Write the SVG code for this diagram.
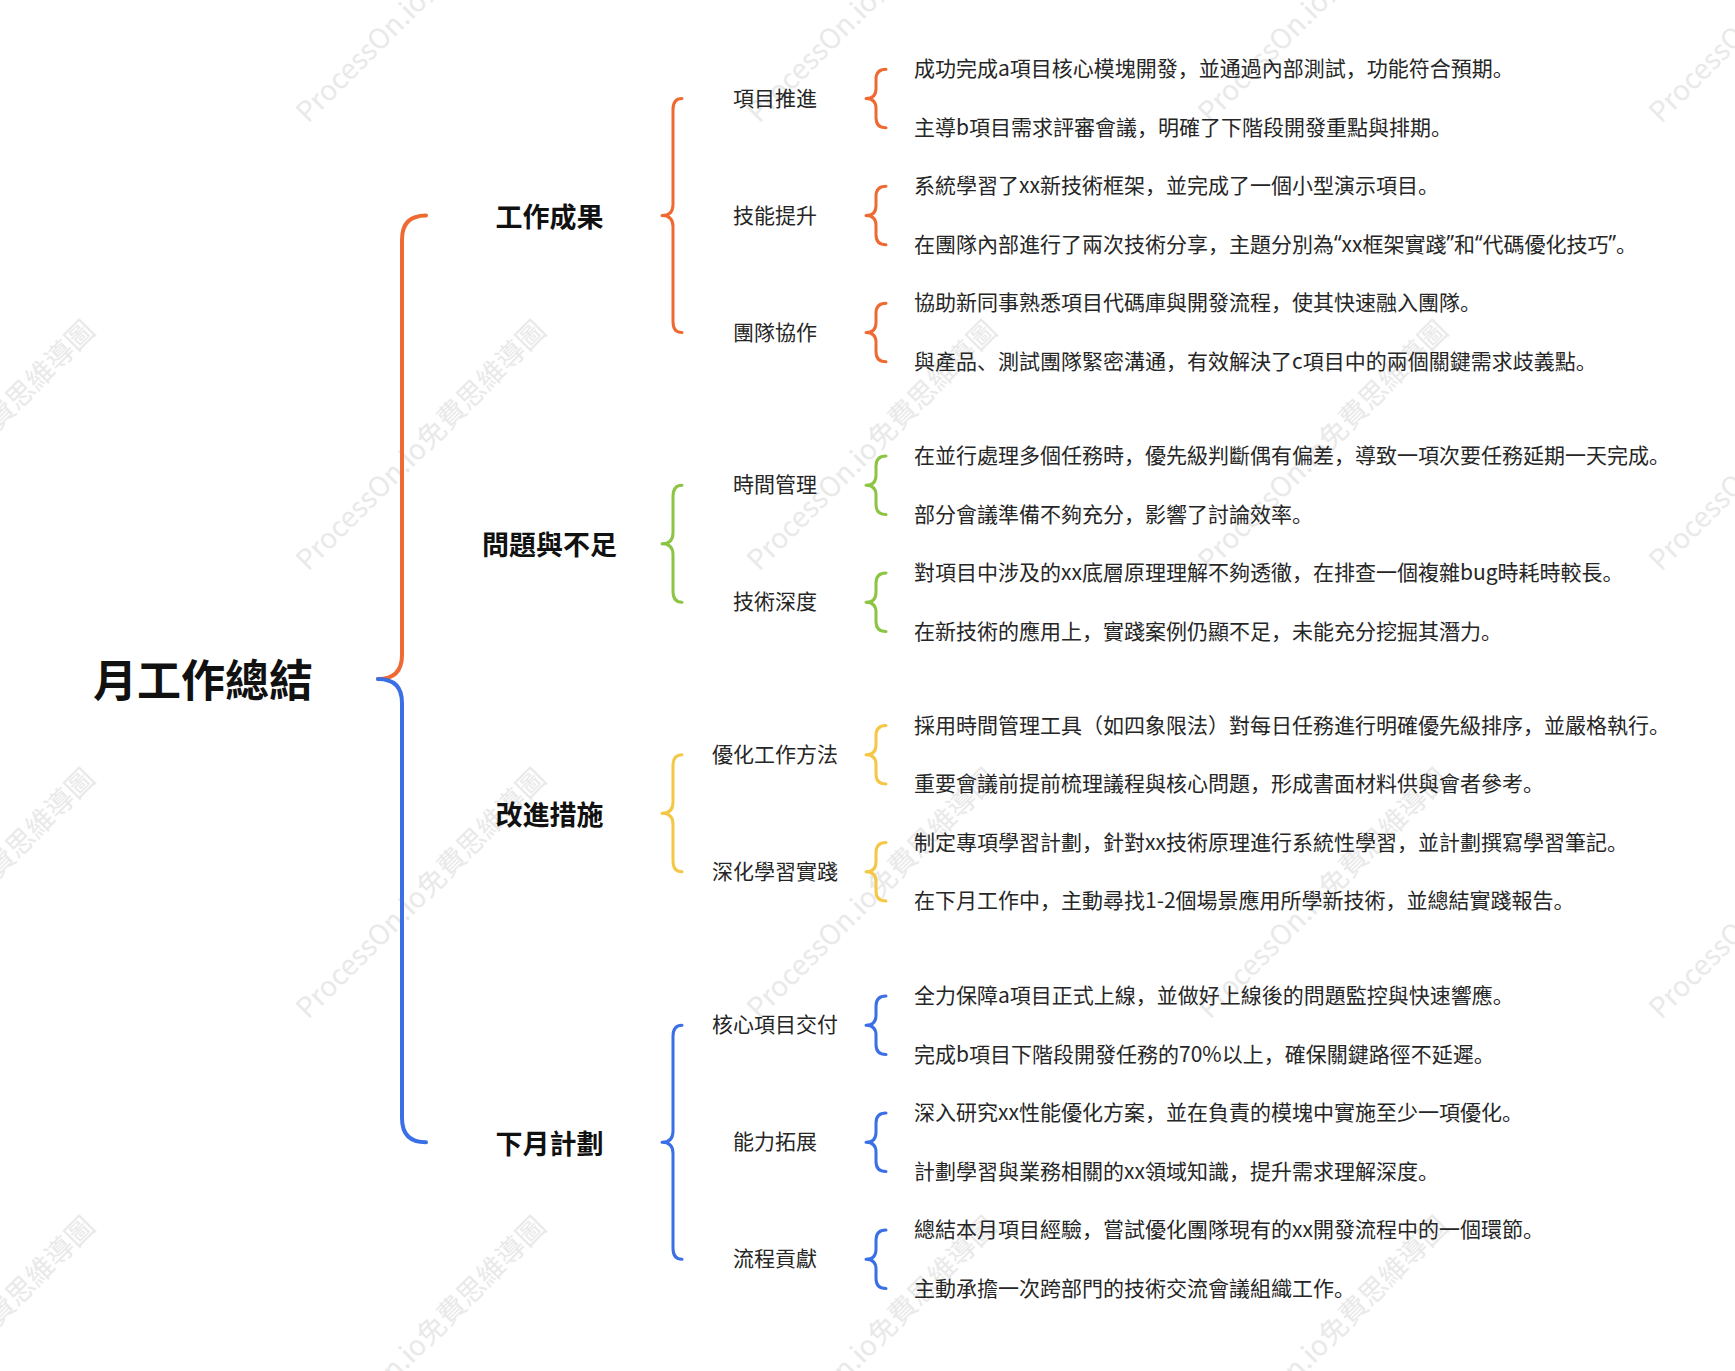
<svg xmlns="http://www.w3.org/2000/svg" width="1735" height="1371" viewBox="0 0 1735 1371">
<style>
  text { font-family: "Noto Sans CJK SC", "Noto Sans CJK TC", sans-serif; dominant-baseline: central; }
  .wm { font-size: 28px; fill: #e9e9e9; dominant-baseline: alphabetic; }
  .root { font-size: 44px; font-weight: 700; fill: #111111; text-anchor: middle; }
  .l1 { font-size: 27px; font-weight: 700; fill: #111111; text-anchor: middle; }
  .l2 { font-size: 21px; fill: #262626; text-anchor: middle; }
  .l3 { font-size: 21px; fill: #262626; }
  .q { font-family: "Noto Sans", sans-serif; }
  .br { fill: none; stroke-linecap: round; stroke-linejoin: round; }
  .main { stroke-width: 4; }
  .sub { stroke-width: 3; }
  .or { stroke: #EF6A33; }
  .gr { stroke: #8CC443; }
  .ye { stroke: #F5C746; }
  .bl { stroke: #3B6FE6; }
</style>
<rect x="0" y="0" width="1735" height="1371" fill="#ffffff"/>

<g id="watermarks">
  <text class="wm" transform="translate(308,124) rotate(-45)">ProcessOn.io免費思維導圖</text>
  <text class="wm" transform="translate(759,124) rotate(-45)">ProcessOn.io免費思維導圖</text>
  <text class="wm" transform="translate(1210,124) rotate(-45)">ProcessOn.io免費思維導圖</text>
  <text class="wm" transform="translate(1661,124) rotate(-45)">ProcessOn.io免費思維導圖</text>
  <text class="wm" transform="translate(-143,572) rotate(-45)">ProcessOn.io免費思維導圖</text>
  <text class="wm" transform="translate(308,572) rotate(-45)">ProcessOn.io免費思維導圖</text>
  <text class="wm" transform="translate(759,572) rotate(-45)">ProcessOn.io免費思維導圖</text>
  <text class="wm" transform="translate(1210,572) rotate(-45)">ProcessOn.io免費思維導圖</text>
  <text class="wm" transform="translate(1661,572) rotate(-45)">ProcessOn.io免費思維導圖</text>
  <text class="wm" transform="translate(-143,1020) rotate(-45)">ProcessOn.io免費思維導圖</text>
  <text class="wm" transform="translate(308,1020) rotate(-45)">ProcessOn.io免費思維導圖</text>
  <text class="wm" transform="translate(759,1020) rotate(-45)">ProcessOn.io免費思維導圖</text>
  <text class="wm" transform="translate(1210,1020) rotate(-45)">ProcessOn.io免費思維導圖</text>
  <text class="wm" transform="translate(1661,1020) rotate(-45)">ProcessOn.io免費思維導圖</text>
  <text class="wm" transform="translate(-143,1468) rotate(-45)">ProcessOn.io免費思維導圖</text>
  <text class="wm" transform="translate(308,1468) rotate(-45)">ProcessOn.io免費思維導圖</text>
  <text class="wm" transform="translate(759,1468) rotate(-45)">ProcessOn.io免費思維導圖</text>
  <text class="wm" transform="translate(1210,1468) rotate(-45)">ProcessOn.io免費思維導圖</text>
</g>

<g id="connectors">
  <path class="br main or" d="M426,215.5 Q402,215.5 402,239.5 L402,654.9 Q402,678.9 378,678.9"/>
  <path class="br main bl" d="M378,678.9 Q402,678.9 402,702.9 L402,1118.2 Q402,1142.2 426,1142.2"/>

  <path class="br sub or" d="M682,98.5 Q673,98.5 673,109.5 L673,204.5 Q673,215.5 662,215.5 Q673,215.5 673,226.5 L673,321.5 Q673,332.5 682,332.5"/>
  <path class="br sub gr" d="M682,485.2 Q673,485.2 673,496.2 L673,532.7 Q673,543.7 662,543.7 Q673,543.7 673,554.7 L673,591.2 Q673,602.2 682,602.2"/>
  <path class="br sub ye" d="M682,754.7 Q673,754.7 673,765.7 L673,802.2 Q673,813.2 662,813.2 Q673,813.2 673,824.2 L673,860.7 Q673,871.7 682,871.7"/>
  <path class="br sub bl" d="M682,1025.2 Q673,1025.2 673,1036.2 L673,1131.2 Q673,1142.2 662,1142.2 Q673,1142.2 673,1153.2 L673,1248.2 Q673,1259.2 682,1259.2"/>

  <path class="br sub or" d="M886,69.3 Q876,69.3 876,79.3 L876,88.55 Q876,98.55 866,98.55 Q876,98.55 876,108.55 L876,117.8 Q876,127.8 886,127.8"/>
  <path class="br sub or" d="M886,186.3 Q876,186.3 876,196.3 L876,205.55 Q876,215.55 866,215.55 Q876,215.55 876,225.55 L876,234.8 Q876,244.8 886,244.8"/>
  <path class="br sub or" d="M886,303.3 Q876,303.3 876,313.3 L876,322.55 Q876,332.55 866,332.55 Q876,332.55 876,342.55 L876,351.8 Q876,361.8 886,361.8"/>
  <path class="br sub gr" d="M886,456 Q876,456 876,466 L876,475.25 Q876,485.25 866,485.25 Q876,485.25 876,495.25 L876,504.5 Q876,514.5 886,514.5"/>
  <path class="br sub gr" d="M886,573 Q876,573 876,583 L876,592.25 Q876,602.25 866,602.25 Q876,602.25 876,612.25 L876,621.5 Q876,631.5 886,631.5"/>
  <path class="br sub ye" d="M886,725.5 Q876,725.5 876,735.5 L876,744.75 Q876,754.75 866,754.75 Q876,754.75 876,764.75 L876,774 Q876,784 886,784"/>
  <path class="br sub ye" d="M886,842.5 Q876,842.5 876,852.5 L876,861.75 Q876,871.75 866,871.75 Q876,871.75 876,881.75 L876,891 Q876,901 886,901"/>
  <path class="br sub bl" d="M886,996 Q876,996 876,1006 L876,1015.25 Q876,1025.25 866,1025.25 Q876,1025.25 876,1035.25 L876,1044.5 Q876,1054.5 886,1054.5"/>
  <path class="br sub bl" d="M886,1113 Q876,1113 876,1123 L876,1132.25 Q876,1142.25 866,1142.25 Q876,1142.25 876,1152.25 L876,1161.5 Q876,1171.5 886,1171.5"/>
  <path class="br sub bl" d="M886,1230 Q876,1230 876,1240 L876,1249.25 Q876,1259.25 866,1259.25 Q876,1259.25 876,1269.25 L876,1278.5 Q876,1288.5 886,1288.5"/>
</g>

<g id="node-root"><text class="root" x="203" y="678">月工作總結</text></g>

<g id="node-work-results"><text class="l1" x="549.5" y="215.5">工作成果</text></g>
<g id="node-problems"><text class="l1" x="549.5" y="543.7">問題與不足</text></g>
<g id="node-improvements"><text class="l1" x="549.5" y="813.2">改進措施</text></g>
<g id="node-next-plan"><text class="l1" x="549.5" y="1142.2">下月計劃</text></g>

<g id="node-project-progress"><text class="l2" x="775" y="96.5">項目推進</text></g>
<g id="node-skill-upgrade"><text class="l2" x="775" y="213.5">技能提升</text></g>
<g id="node-team-collab"><text class="l2" x="775" y="330.5">團隊協作</text></g>
<g id="node-time-mgmt"><text class="l2" x="775" y="483.2">時間管理</text></g>
<g id="node-tech-depth"><text class="l2" x="775" y="600.2">技術深度</text></g>
<g id="node-optimize-method"><text class="l2" x="775" y="752.7">優化工作方法</text></g>
<g id="node-deepen-learning"><text class="l2" x="775" y="869.7">深化學習實踐</text></g>
<g id="node-core-delivery"><text class="l2" x="775" y="1023.2">核心項目交付</text></g>
<g id="node-ability-expand"><text class="l2" x="775" y="1140.2">能力拓展</text></g>
<g id="node-process-contrib"><text class="l2" x="775" y="1257.2">流程貢獻</text></g>

<g id="node-item-01"><text class="l3" x="914" y="67.3">成功完成a項目核心模塊開發，並通過內部測試，功能符合預期。</text></g>
<g id="node-item-02"><text class="l3" x="914" y="125.8">主導b項目需求評審會議，明確了下階段開發重點與排期。</text></g>
<g id="node-item-03"><text class="l3" x="914" y="184.3">系統學習了xx新技術框架，並完成了一個小型演示項目。</text></g>
<g id="node-item-04"><text class="l3" x="914" y="242.8">在團隊內部進行了兩次技術分享，主題分別為<tspan class="q">“</tspan>xx框架實踐<tspan class="q">”</tspan>和<tspan class="q">“</tspan>代碼優化技巧<tspan class="q">”</tspan>。</text></g>
<g id="node-item-05"><text class="l3" x="914" y="301.3">協助新同事熟悉項目代碼庫與開發流程，使其快速融入團隊。</text></g>
<g id="node-item-06"><text class="l3" x="914" y="359.8">與產品、測試團隊緊密溝通，有效解決了c項目中的兩個關鍵需求歧義點。</text></g>
<g id="node-item-07"><text class="l3" x="914" y="454">在並行處理多個任務時，優先級判斷偶有偏差，導致一項次要任務延期一天完成。</text></g>
<g id="node-item-08"><text class="l3" x="914" y="512.5">部分會議準備不夠充分，影響了討論效率。</text></g>
<g id="node-item-09"><text class="l3" x="914" y="571">對項目中涉及的xx底層原理理解不夠透徹，在排查一個複雜bug時耗時較長。</text></g>
<g id="node-item-10"><text class="l3" x="914" y="629.5">在新技術的應用上，實踐案例仍顯不足，未能充分挖掘其潛力。</text></g>
<g id="node-item-11"><text class="l3" x="914" y="723.5">採用時間管理工具（如四象限法）對每日任務進行明確優先級排序，並嚴格執行。</text></g>
<g id="node-item-12"><text class="l3" x="914" y="782">重要會議前提前梳理議程與核心問題，形成書面材料供與會者參考。</text></g>
<g id="node-item-13"><text class="l3" x="914" y="840.5">制定專項學習計劃，針對xx技術原理進行系統性學習，並計劃撰寫學習筆記。</text></g>
<g id="node-item-14"><text class="l3" x="914" y="899">在下月工作中，主動尋找1-2個場景應用所學新技術，並總結實踐報告。</text></g>
<g id="node-item-15"><text class="l3" x="914" y="994">全力保障a項目正式上線，並做好上線後的問題監控與快速響應。</text></g>
<g id="node-item-16"><text class="l3" x="914" y="1052.5">完成b項目下階段開發任務的70%以上，確保關鍵路徑不延遲。</text></g>
<g id="node-item-17"><text class="l3" x="914" y="1111">深入研究xx性能優化方案，並在負責的模塊中實施至少一項優化。</text></g>
<g id="node-item-18"><text class="l3" x="914" y="1169.5">計劃學習與業務相關的xx領域知識，提升需求理解深度。</text></g>
<g id="node-item-19"><text class="l3" x="914" y="1228">總結本月項目經驗，嘗試優化團隊現有的xx開發流程中的一個環節。</text></g>
<g id="node-item-20"><text class="l3" x="914" y="1286.5">主動承擔一次跨部門的技術交流會議組織工作。</text></g>
</svg>
